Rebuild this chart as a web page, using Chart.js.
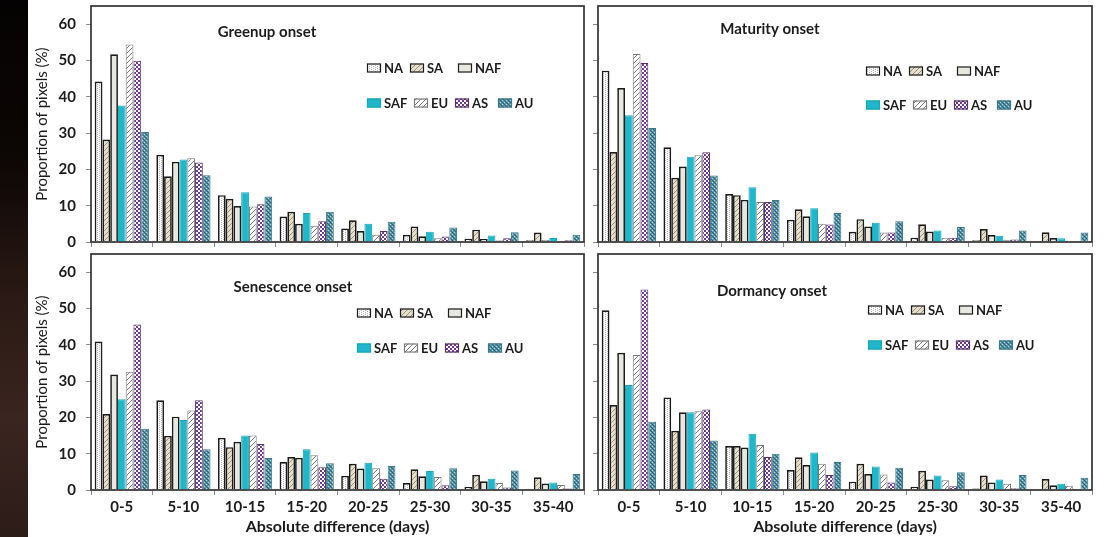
<!DOCTYPE html>
<html>
<head>
<meta charset="utf-8">
<script src="https://cdn.jsdelivr.net/npm/chart.js@4.4.1/dist/chart.umd.min.js"></script>
<style>
  html, body { margin: 0; padding: 0; background: #fff; }
  body { width: 1104px; height: 537px; position: relative; overflow: hidden; }
  .edge { position: absolute; left: 0; top: 0; width: 28px; height: 537px;
    background: linear-gradient(180deg, #040202 0%, #0d0705 30%, #2a1914 55%, #3a2520 78%, #2c1c18 100%); }
  .panel { position: absolute; }
</style>
</head>
<body>
<div class="edge"></div>
<div class="panel" style="left:0;top:0;width:592px;height:252px"><canvas id="greenup"></canvas></div>
<div class="panel" style="left:592px;top:0;width:512px;height:252px"><canvas id="maturity"></canvas></div>
<div class="panel" style="left:0;top:252px;width:592px;height:285px"><canvas id="senescence"></canvas></div>
<div class="panel" style="left:592px;top:252px;width:512px;height:285px"><canvas id="dormancy"></canvas></div>
<script>
const categories = ['0-5', '5-10', '10-15', '15-20', '20-25', '25-30', '30-35', '35-40'];
const regions = ['NA', 'SA', 'NAF', 'SAF', 'EU', 'AS', 'AU'];

// rows follow the order of `regions`, columns follow `categories`
const greenup = [
  [44.2, 24.0, 12.9, 7.0, 3.7, 2.0, 0.9, 0.5],
  [28.2, 18.1, 11.9, 8.3, 6.0, 4.3, 3.4, 2.6],
  [51.7, 22.1, 9.9, 5.0, 3.0, 1.6, 0.8, 0.5],
  [37.6, 22.7, 13.7, 8.0, 5.0, 2.8, 1.8, 1.1],
  [54.4, 23.1, 9.8, 4.5, 2.0, 1.0, 0.5, 0.3],
  [49.9, 21.9, 10.4, 5.7, 3.0, 1.5, 1.0, 0.5],
  [30.3, 18.4, 12.5, 8.3, 5.6, 4.0, 2.7, 2.0]
];
const maturity = [
  [47.2, 26.1, 13.2, 6.1, 2.8, 1.2, 0.5, 0.3],
  [24.8, 17.7, 12.9, 9.0, 6.3, 4.9, 3.6, 2.7],
  [42.4, 20.8, 11.6, 7.1, 4.3, 2.9, 1.9, 1.1],
  [34.9, 23.5, 15.1, 9.3, 5.3, 3.2, 1.7, 1.0],
  [51.8, 23.9, 11.0, 5.0, 2.6, 1.2, 0.6, 0.2],
  [49.3, 24.7, 11.0, 4.8, 2.6, 1.2, 0.7, 0.3],
  [31.4, 18.3, 11.6, 8.0, 5.7, 4.1, 3.2, 2.6]
];
const senescence = [
  [40.9, 24.7, 14.4, 7.7, 3.9, 1.9, 0.8, 0.3],
  [20.9, 14.9, 11.8, 9.1, 7.2, 5.7, 4.2, 3.5],
  [31.8, 20.2, 13.3, 8.9, 5.9, 3.8, 2.4, 1.8],
  [25.0, 19.3, 15.0, 11.2, 7.5, 5.2, 3.1, 2.1],
  [32.6, 21.9, 15.0, 9.6, 6.0, 3.6, 1.9, 1.4],
  [45.6, 24.7, 12.7, 6.3, 3.1, 1.3, 0.7, 0.4],
  [16.9, 11.2, 8.8, 7.4, 6.6, 6.0, 5.4, 4.4]
];
const dormancy = [
  [49.5, 25.5, 12.1, 5.5, 2.3, 0.9, 0.4, 0.1],
  [23.4, 16.3, 12.1, 9.0, 7.2, 5.3, 4.0, 3.0],
  [37.8, 21.4, 11.7, 6.9, 4.4, 2.9, 2.1, 1.3],
  [28.9, 21.4, 15.5, 10.3, 6.5, 4.0, 2.9, 1.7],
  [37.2, 21.7, 12.4, 7.2, 4.3, 2.7, 1.7, 1.2],
  [55.2, 22.2, 9.1, 4.1, 2.1, 1.0, 0.5, 0.3],
  [18.8, 13.6, 10.0, 7.7, 6.1, 4.9, 4.1, 3.4]
];

const FONT = 'Lato, "Open Sans", sans-serif';

// small repeating tiles used as bar fills
function tile(w, h, paint) {
  const c = document.createElement('canvas');
  c.width = w; c.height = h;
  paint(c.getContext('2d'));
  return c;
}
function dots(g, color, pts) { g.fillStyle = color; pts.forEach(([x, y]) => g.fillRect(x, y, 1, 1)); }
const slash = n => Array.from({ length: n }, (_, i) => [n - 1 - i, i]);

const tiles = {
  NA: tile(4, 4, g => { g.fillStyle = '#fff'; g.fillRect(0, 0, 4, 4); dots(g, '#b5b5b5', [[1, 0], [1, 2], [3, 1], [3, 3]]); }),
  SA: tile(5, 5, g => { g.fillStyle = '#e5decd'; g.fillRect(0, 0, 5, 5); dots(g, '#9d917b', slash(5)); }),
  NAF: tile(2, 2, g => { g.fillStyle = '#e8e8e0'; g.fillRect(0, 0, 2, 2); }),
  SAF: tile(2, 2, g => { g.fillStyle = '#1fb7c9'; g.fillRect(0, 0, 2, 2); }),
  EU: tile(5, 5, g => { g.fillStyle = '#fff'; g.fillRect(0, 0, 5, 5); dots(g, '#7a7a7a', slash(5)); }),
  AS: tile(4, 4, g => { g.fillStyle = '#6c3c88'; g.fillRect(0, 0, 4, 4); g.fillStyle = '#fff'; g.fillRect(0, 0, 2, 2); g.fillRect(2, 2, 2, 2); }),
  AU: tile(4, 4, g => { g.fillStyle = '#5a95a6'; g.fillRect(0, 0, 4, 4); dots(g, '#2b6273', [[0, 0], [2, 2], [1, 1], [3, 3]]); dots(g, '#a9d2dc', [[2, 0], [0, 2]]); })
};
const edges = { NA: '#1b1b1b', SA: '#1b1b1b', NAF: '#1b1b1b', SAF: '#16a7b9', EU: '#7a7a7a', AS: '#5b2f70', AU: '#3b7888' };
const edgeWidths = { NA: 1.7, SA: 1.7, NAF: 1.7, SAF: 1, EU: 1, AS: 1, AU: 1 };

const fillFor = key => c => c.chart.ctx.createPattern(tiles[key], 'repeat');

// legend is laid out in two rows, like the original figure
const legendRows = [[0, 1, 2], [3, 4, 5, 6]];
const legendOffsets = [[0, 43, 91], [0, 47, 88, 131]];

const panelDecor = {
  id: 'panelDecor',
  afterDraw(chart, args, o) {
    const { ctx, chartArea: a } = chart;
    ctx.save();
    ctx.strokeStyle = '#333';
    ctx.lineWidth = 1.7;
    ctx.strokeRect(a.left, a.top, a.right - a.left, a.bottom - a.top);

    ctx.fillStyle = '#1c1c1c';
    ctx.font = 'bold 15px ' + FONT;
    ctx.textAlign = 'center';
    ctx.textBaseline = 'middle';
    ctx.fillText(o.heading, a.left + o.headingX, a.top + o.headingY);

    ctx.font = 'bold 13px ' + FONT;
    ctx.textAlign = 'left';
    legendRows.forEach((row, r) => {
      row.forEach((idx, k) => {
        const key = regions[idx];
        const x = a.left + o.legendX + legendOffsets[r][k];
        const y = a.top + o.legendY + r * o.legendGap;
        ctx.fillStyle = ctx.createPattern(tiles[key], 'repeat');
        ctx.fillRect(x, y - 4.5, 14, 9);
        ctx.strokeStyle = edges[key];
        ctx.lineWidth = 1.2;
        ctx.strokeRect(x + 0.5, y - 4, 13, 8);
        ctx.fillStyle = '#1c1c1c';
        ctx.fillText(key, x + 17, y + 0.5);
      });
    });
    ctx.restore();
  }
};

// keep the plot box fixed: no extra room reserved for end labels
function fixBox(s, size) {
  if (s.isHorizontal()) s.height = size; else s.width = size;
  s.paddingTop = 0; s.paddingBottom = 0; s.paddingLeft = 0; s.paddingRight = 0;
}

function buildChart(id, values, cfg) {
  const datasets = regions.map((key, i) => ({
    label: key,
    data: values[i],
    backgroundColor: fillFor(key),
    borderColor: edges[key],
    borderWidth: edgeWidths[key],
    categoryPercentage: 0.88,
    barPercentage: 1.0
  }));
  const tickFont = { family: FONT, size: 15, weight: 'bold' };
  return new Chart(document.getElementById(id), {
    type: 'bar',
    data: { labels: categories, datasets },
    plugins: [panelDecor],
    options: {
      responsive: true,
      maintainAspectRatio: false,
      animation: false,
      events: [],
      layout: { padding: { left: 0, right: cfg.padRight, top: cfg.padTop, bottom: 0 } },
      plugins: {
        legend: { display: false },
        tooltip: { enabled: false },
        panelDecor: cfg.decor
      },
      scales: {
        x: {
          grid: { offset: true, drawOnChartArea: false, drawTicks: true, tickLength: 5, color: '#8c8c8c' },
          border: { display: false },
          ticks: { display: cfg.xLabels, font: tickFont, color: '#1c1c1c', padding: 3, maxRotation: 0, autoSkip: false },
          title: {
            display: cfg.xLabels, text: 'Absolute difference (days)',
            font: { family: FONT, size: 16, weight: 'bold' }, color: '#1c1c1c', padding: { top: 0, bottom: 1 }
          },
          afterFit: s => fixBox(s, cfg.xHeight)
        },
        y: {
          min: 0,
          max: 65,
          grid: { drawOnChartArea: false, tickLength: 5, color: '#8c8c8c' },
          border: { display: false },
          ticks: { display: cfg.yLabels, stepSize: 10, includeBounds: false, font: tickFont, color: '#1c1c1c', padding: 10 },
          title: {
            display: cfg.yLabels, text: 'Proportion of pixels (%)',
            font: { family: FONT, size: 15, weight: 'normal' }, color: '#1c1c1c', padding: { top: 33, bottom: 0 }
          },
          afterFit: s => fixBox(s, cfg.yWidth)
        }
      }
    }
  });
}

buildChart('greenup', greenup, {
  xLabels: false, yLabels: true, xHeight: 10, yWidth: 91, padRight: 8, padTop: 6,
  decor: { heading: 'Greenup onset', headingX: 176, headingY: 26, legendX: 276, legendY: 62, legendGap: 35 }
});
buildChart('maturity', maturity, {
  xLabels: false, yLabels: false, xHeight: 10, yWidth: 6, padRight: 12, padTop: 6,
  decor: { heading: 'Maturity onset', headingX: 172, headingY: 23, legendX: 268, legendY: 65, legendGap: 34 }
});
buildChart('senescence', senescence, {
  xLabels: true, yLabels: true, xHeight: 47, yWidth: 91, padRight: 8, padTop: 2,
  decor: { heading: 'Senescence onset', headingX: 202, headingY: 33, legendX: 266, legendY: 59, legendGap: 35 }
});
buildChart('dormancy', dormancy, {
  xLabels: true, yLabels: false, xHeight: 47, yWidth: 6, padRight: 12, padTop: 2,
  decor: { heading: 'Dormancy onset', headingX: 174, headingY: 37, legendX: 270, legendY: 56, legendGap: 35 }
});
</script>
</body>
</html>
